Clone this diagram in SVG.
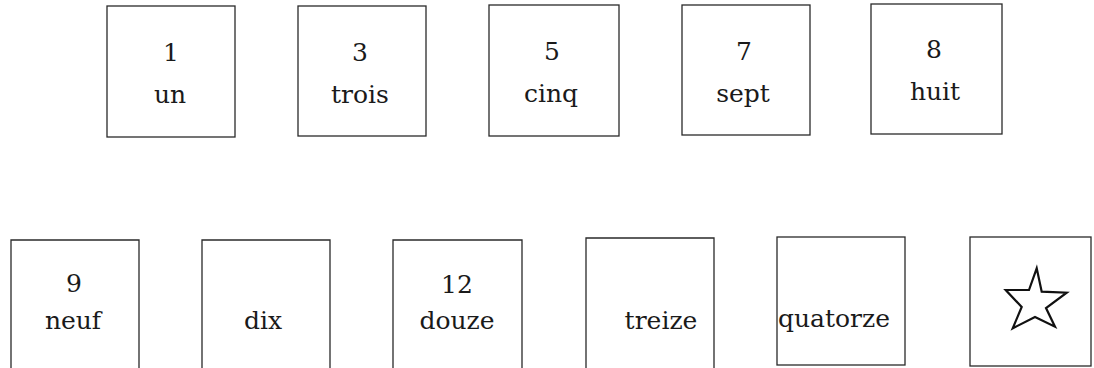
<svg xmlns="http://www.w3.org/2000/svg" width="1094" height="368" viewBox="0 0 1094 368">
<style>
.box{fill:#fff;stroke:#2a2a2a;stroke-width:1.3}
text{font-family:'DejaVu Serif','Liberation Serif',serif;font-size:25px;fill:#1a1a1a;text-anchor:middle}
.l{text-anchor:start}
.star{fill:#fff;stroke:#111;stroke-width:2.2;stroke-linejoin:miter}
</style>
<rect width="1094" height="368" fill="#fff"/>
<g id="n1"><rect class="box" x="107" y="6" width="128" height="131"/><text x="171" y="61">1</text><text x="170" y="103">un</text></g>
<g id="n3"><rect class="box" x="298" y="6" width="128" height="130"/><text x="360" y="61">3</text><text x="360" y="103">trois</text></g>
<g id="n5"><rect class="box" x="489" y="5" width="130" height="131"/><text x="552" y="60">5</text><text x="551" y="102">cinq</text></g>
<g id="n7"><rect class="box" x="682" y="5" width="128" height="130"/><text x="744" y="60">7</text><text x="743" y="102">sept</text></g>
<g id="n8"><rect class="box" x="871" y="4" width="131" height="130"/><text x="934" y="58">8</text><text x="935" y="100">huit</text></g>
<g id="n9"><path class="box" d="M11,370 V240 H139 V370"/><text x="74" y="292">9</text><text x="73" y="329">neuf</text></g>
<g id="n10"><path class="box" d="M202,370 V240 H330 V370"/><text x="263" y="329">dix</text></g>
<g id="n12"><path class="box" d="M393,370 V240 H522 V370"/><text x="457" y="293">12</text><text x="457" y="329">douze</text></g>
<g id="n13"><path class="box" d="M586,370 V238 H714 V370"/><text x="661" y="329">treize</text></g>
<g id="n14"><rect class="box" x="777" y="237" width="128" height="128"/><text class="l" x="778" y="327">quatorze</text></g>
<g id="nstar"><rect class="box" x="970" y="237" width="121" height="129"/><polygon class="star" points="1036.7,268.3 1041.7,291.7 1066.7,292.7 1046,308 1055,326.7 1035,317 1012.7,328.3 1021.7,307 1005.7,290 1029,290"/></g>
<g id="connectors"></g>
</svg>
